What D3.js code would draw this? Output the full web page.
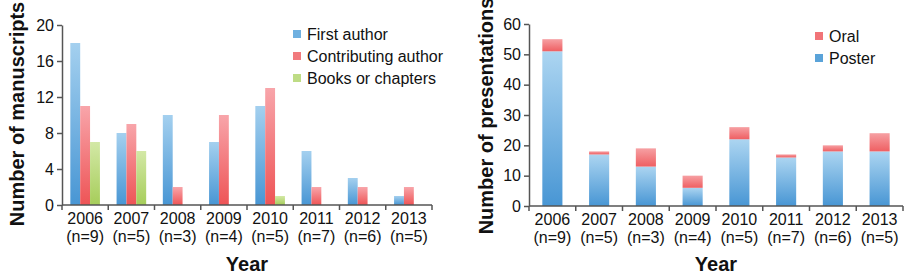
<!DOCTYPE html>
<html>
<head>
<meta charset="utf-8" />
<title>Manuscripts and presentations</title>
<script src="https://d3js.org/d3.v7.min.js"></script>
<style>
  body { margin: 0; background: #fff; }
  text { font-family: "Liberation Sans", Arial, sans-serif; fill: #111; }
  .axis path, .axis line { stroke: #555; }
</style>
</head>
<body>
<svg></svg>
<script>
// data
const years = ["2006", "2007", "2008", "2009", "2010", "2011", "2012", "2013"];
const nLabels = ["(n=9)", "(n=5)", "(n=3)", "(n=4)", "(n=5)", "(n=7)", "(n=6)", "(n=5)"];
const firstAuthor = [18, 8, 10, 7, 11, 6, 3, 1];
const contribAuthor = [11, 9, 2, 10, 13, 2, 2, 2];
const books = [7, 6, 0, 0, 1, 0, 0, 0];
const poster = [51, 17, 13, 6, 22, 16, 18, 18];
const oral = [4, 1, 6, 4, 4, 1, 2, 6];
const leftTicks = [0, 4, 8, 12, 16, 20];
const rightTicks = [0, 10, 20, 30, 40, 50, 60];

const svg = d3.select("svg").attr("width", 910).attr("height", 280);

// gradients
const defs = svg.append("defs");
function grad(id, top, bottom) {
  const g = defs.append("linearGradient").attr("id", id)
    .attr("x1", 0).attr("y1", 0).attr("x2", 0).attr("y2", 1);
  g.append("stop").attr("offset", "0%").attr("stop-color", top);
  g.append("stop").attr("offset", "100%").attr("stop-color", bottom);
}
grad("gBlue", "#a4d0ef", "#4896d4");
grad("gRed", "#f8a5aa", "#ee5456");
grad("gGreen", "#d3e8a6", "#a6cd5a");
grad("gOral", "#f6a0a3", "#ef5f62");
grad("gPoster", "#acd5f1", "#4896d4");

function xAxisWithLabels(g, x, h) {
  // tick marks at category boundaries
  const step = x.step();
  const bounds = years.map(d => x(d)).concat([x(years[years.length - 1]) + step]);
  g.append("line")
    .attr("x1", x.range()[0]).attr("x2", x.range()[1])
    .attr("y1", h).attr("y2", h).attr("stroke", "#555").attr("stroke-width", 1.5);
  g.selectAll(".btick").data(bounds).enter().append("line")
    .attr("x1", d => d).attr("x2", d => d)
    .attr("y1", h).attr("y2", h + 5).attr("stroke", "#555").attr("stroke-width", 1.5);
  g.selectAll(".yl").data(years).enter().append("text")
    .attr("x", d => x(d) + step / 2).attr("y", h + 19)
    .attr("text-anchor", "middle").attr("font-size", 16).text(d => d);
  g.selectAll(".nl").data(nLabels).enter().append("text")
    .attr("x", (d, i) => x(years[i]) + step / 2).attr("y", h + 37)
    .attr("text-anchor", "middle").attr("font-size", 16).text(d => d);
}

// ---------- left chart ----------
const L = { left: 62, top: 25, w: 370, h: 180 };
const left = svg.append("g").attr("transform", `translate(${L.left},${L.top})`);

const x1 = d3.scaleBand().domain(years).range([0, L.w]).padding(0);
const sub = d3.scaleBand().domain([0, 1, 2])
  .range([x1.step() * 0.18, x1.step() * 0.82]).padding(0);
const y1 = d3.scaleLinear().domain([0, 20]).range([L.h, 0]);

const leftSeries = [
  { name: "First author", vals: firstAuthor, fill: "url(#gBlue)", key: "#6fb0e0" },
  { name: "Contributing author", vals: contribAuthor, fill: "url(#gRed)", key: "#f17a7d" },
  { name: "Books or chapters", vals: books, fill: "url(#gGreen)", key: "#bedc85" }
];

leftSeries.forEach((s, si) => {
  left.selectAll(".b" + si).data(s.vals).enter().append("rect")
    .attr("x", (d, i) => x1(years[i]) + sub(si))
    .attr("width", sub.bandwidth())
    .attr("y", d => y1(d))
    .attr("height", d => L.h - y1(d))
    .attr("fill", s.fill);
});

left.append("g").attr("class", "axis")
  .call(d3.axisLeft(y1).tickValues(leftTicks).tickSize(5).tickSizeOuter(0))
  .call(g => g.selectAll("text").attr("font-size", 16).attr("fill", "#111"))
  .call(g => g.selectAll("path,line").attr("stroke-width", 1.5));
xAxisWithLabels(left, x1, L.h);

svg.append("text").attr("transform", `translate(24,114) rotate(-90)`)
  .attr("text-anchor", "middle").attr("font-size", 20).attr("font-weight", "bold")
  .text("Number of manuscripts");
svg.append("text").attr("x", L.left + L.w / 2).attr("y", 271)
  .attr("text-anchor", "middle").attr("font-size", 20).attr("font-weight", "bold")
  .text("Year");

const lg1 = svg.append("g").attr("transform", "translate(293,34)");
leftSeries.forEach((s, i) => {
  lg1.append("rect").attr("x", 0).attr("y", i * 22 - 4).attr("width", 8).attr("height", 8)
    .attr("fill", s.key);
  lg1.append("text").attr("x", 14).attr("y", i * 22 + 6).attr("font-size", 16).text(s.name);
});

// ---------- right chart ----------
const R = { left: 529, top: 24, w: 374, h: 182 };
const right = svg.append("g").attr("transform", `translate(${R.left},${R.top})`);

const x2 = d3.scaleBand().domain(years).range([0, R.w]).padding(0);
const barW = x2.step() * 0.43;
const y2 = d3.scaleLinear().domain([0, 60]).range([R.h, 0]);

const stacked = years.map((d, i) => ({ year: d, poster: poster[i], oral: oral[i] }));

right.selectAll(".p").data(stacked).enter().append("rect")
  .attr("x", d => x2(d.year) + (x2.step() - barW) / 2)
  .attr("width", barW)
  .attr("y", d => y2(d.poster))
  .attr("height", d => R.h - y2(d.poster))
  .attr("fill", "url(#gPoster)");
right.selectAll(".o").data(stacked).enter().append("rect")
  .attr("x", d => x2(d.year) + (x2.step() - barW) / 2)
  .attr("width", barW)
  .attr("y", d => y2(d.poster + d.oral))
  .attr("height", d => y2(d.poster) - y2(d.poster + d.oral))
  .attr("fill", "url(#gOral)");

right.append("g").attr("class", "axis")
  .call(d3.axisLeft(y2).tickValues(rightTicks).tickSize(5).tickSizeOuter(0))
  .call(g => g.selectAll("text").attr("font-size", 16).attr("fill", "#111"))
  .call(g => g.selectAll("path,line").attr("stroke-width", 1.5));
xAxisWithLabels(right, x2, R.h);

svg.append("text").attr("transform", `translate(493,116) rotate(-90)`)
  .attr("text-anchor", "middle").attr("font-size", 20).attr("font-weight", "bold")
  .text("Number of presentations");
svg.append("text").attr("x", R.left + R.w / 2).attr("y", 271)
  .attr("text-anchor", "middle").attr("font-size", 20).attr("font-weight", "bold")
  .text("Year");

const lg2 = svg.append("g").attr("transform", "translate(815,36)");
[{ name: "Oral", key: "#f17478" }, { name: "Poster", key: "#5aa3d9" }].forEach((s, i) => {
  lg2.append("rect").attr("x", 0).attr("y", i * 22 - 4).attr("width", 8).attr("height", 8)
    .attr("fill", s.key);
  lg2.append("text").attr("x", 14).attr("y", i * 22 + 6).attr("font-size", 16).text(s.name);
});
</script>
</body>
</html>
